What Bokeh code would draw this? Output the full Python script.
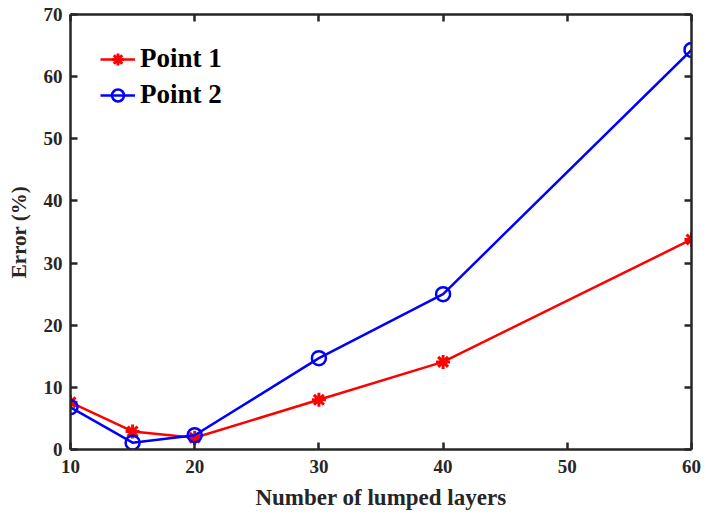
from bokeh.plotting import figure
from bokeh.models import LinearAxis, Range1d, FixedTicker, Legend, LegendItem
from bokeh.embed import file_html
from bokeh.resources import INLINE

layers = [10, 15, 20, 30, 40, 60]
point1 = [7.6, 2.9, 1.9, 8.0, 14.1, 33.8]
point2 = [6.8, 1.1, 2.3, 14.7, 25.0, 64.3]
x_ticks = [10, 20, 30, 40, 50, 60]
y_ticks = [0, 10, 20, 30, 40, 50, 60, 70]

FONT = "Liberation Serif"
AX = "#262626"

p = figure(width=706, height=514, output_backend="svg", toolbar_location=None,
           x_range=Range1d(10, 60), y_range=Range1d(0, 70),
           min_border_left=70, min_border_right=15, min_border_top=14, min_border_bottom=65,
           x_axis_label="Number of lumped layers", y_axis_label="Error (%)")
p.xgrid.visible = False
p.ygrid.visible = False
p.outline_line_color = None
p.background_fill_color = "white"

def style(ax, ticks, labels=True):
    ax.ticker = FixedTicker(ticks=ticks)
    ax.axis_line_width = 2.5
    ax.axis_line_color = AX
    ax.major_tick_line_width = 2.5
    ax.major_tick_line_color = AX
    ax.major_tick_in = 7
    ax.major_tick_out = 0
    ax.minor_tick_line_color = None
    ax.major_label_text_font = FONT
    ax.major_label_text_font_style = "bold"
    ax.major_label_text_font_size = "19px"
    ax.major_label_text_color = "#262626" if labels else None
    ax.axis_label_text_font = FONT
    ax.axis_label_text_font_style = "bold"
    ax.axis_label_text_color = "#262626"

style(p.xaxis[0], x_ticks)
style(p.yaxis[0], y_ticks)
p.xaxis[0].axis_label_text_font_size = "23px"
p.yaxis[0].axis_label_text_font_size = "21px"
p.xaxis[0].major_label_standoff = 10
p.yaxis[0].major_label_standoff = 8
p.xaxis[0].axis_label_standoff = 9
p.yaxis[0].axis_label_standoff = 10

top = LinearAxis()
style(top, x_ticks, labels=False)
top.major_label_text_font_size = "0px"
right = LinearAxis()
style(right, y_ticks, labels=False)
right.major_label_text_font_size = "0px"
p.add_layout(top, "above")
p.add_layout(right, "right")

l1 = p.line(layers, point1, line_color="red", line_width=2.5)
s1 = p.scatter(layers, point1, marker="asterisk", size=14, line_color="red", line_width=3)
l2 = p.line(layers, point2, line_color="blue", line_width=2.5)
s2 = p.scatter(layers, point2, marker="circle", size=14, line_color="blue",
               fill_color=None, line_width=2.5)

legend = Legend(items=[LegendItem(label="Point 1", renderers=[l1, s1]),
                       LegendItem(label="Point 2", renderers=[l2, s2])],
                location=(30, 339), padding=0, margin=0, spacing=5,
                glyph_width=35, glyph_height=30, label_height=30, label_standoff=5,
                border_line_color=None, background_fill_alpha=0,
                label_text_font=FONT, label_text_font_style="bold",
                label_text_font_size="27px", label_text_color="black")
p.add_layout(legend)

open("out.html", "w").write(file_html(p, INLINE))
